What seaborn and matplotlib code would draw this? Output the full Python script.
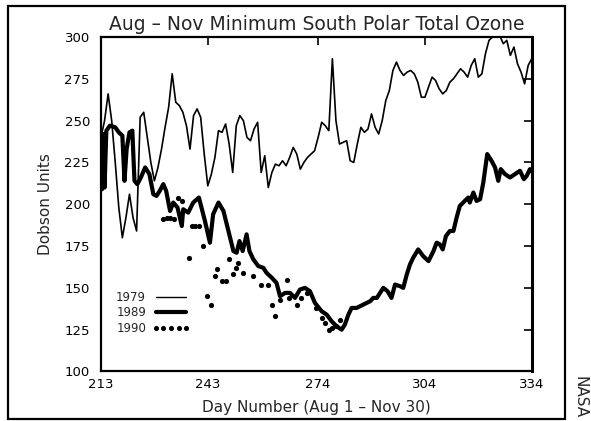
import matplotlib
matplotlib.use("Agg")
import matplotlib.pyplot as plt
import seaborn as sns
import pandas as pd
from matplotlib.lines import Line2D
from matplotlib.patches import Rectangle

# ---------------- data ----------------
days_1979 = list(range(213, 335))
ozone_1979 = [240, 250, 266, 250, 225, 198, 180, 192, 206, 192, 184, 252, 255, 240, 225,
              214, 222, 233, 246, 258, 278, 261, 259, 255, 247, 233, 253, 257, 252, 230,
              211, 218, 228, 244, 243, 248, 236, 219, 247, 253, 250, 240, 238, 245, 249,
              219, 229, 210, 219, 224, 223, 226, 223, 228, 234, 230, 221, 225, 228, 230,
              232, 240, 249, 247, 244, 287, 250, 236, 237, 238, 226, 225, 236, 246, 243,
              245, 254, 246, 242, 250, 262, 268, 280, 285, 280, 277, 279, 280, 278, 273,
              264, 264, 270, 276, 274, 269, 266, 268, 273, 275, 278, 281, 279, 276, 283,
              287, 276, 278, 290, 298, 300, 301, 301, 296, 298, 289, 294, 284, 279, 272,
              283, 287]

days_1989 = [213.0, 213.3, 213.6, 214.0, 214.5, 215.5, 217.0, 218.0, 219.0, 219.6, 220.2,
             221.0, 221.8, 222.4, 223.2, 224.2, 225.4, 226.6, 227.7, 228.6, 229.5, 230.5,
             231.3, 232.4, 233.3, 234.5, 235.7, 236.1, 237.5, 238.9, 240.5, 242.2, 243.6,
             244.5, 246.0, 247.4, 248.8, 250.2, 251.1, 251.9, 252.8, 253.9, 254.7, 255.8,
             257.2, 258.6, 259.5, 261.0, 262.3, 263.3, 264.7, 266.1, 267.5, 268.9, 270.3,
             271.7, 273.1, 275.0, 276.4, 277.8, 279.2, 280.6, 281.5, 282.5, 283.4, 284.8,
             286.7, 288.6, 289.5, 290.5, 292.3, 293.5, 294.6, 295.6, 297.0, 297.9, 298.9,
             299.8, 300.7, 302.1, 303.5, 305.0, 306.4, 307.3, 308.2, 309.0, 309.9, 311.0,
             312.0, 312.9, 313.8, 315.2, 316.2, 316.6, 317.6, 318.5, 319.5, 320.4, 321.5,
             322.7, 323.7, 324.6, 325.3, 326.5, 327.9, 329.3, 330.7, 331.8, 332.6, 333.5,
             334.0]
ozone_1989 = [240, 209, 242, 210, 244, 247, 246, 243, 241, 214, 233,
              243, 244, 214, 212, 216, 222, 218, 206, 205, 208, 212,
              208, 196, 201, 198, 187, 197, 195, 201, 204, 190, 177,
              194, 201, 196, 184, 172, 171, 178, 172, 182, 172, 167,
              163, 162, 159, 156, 153, 145, 147, 147, 144, 149, 150,
              148, 141, 136, 134, 130, 127, 125, 128, 134, 138, 138,
              140, 142, 144, 144, 150, 148, 144, 152, 151, 150, 158,
              164, 168, 173, 169, 166, 172, 177, 176, 173, 181, 184,
              184, 192, 199, 202, 204, 201, 207, 202, 203, 213, 230,
              226, 222, 214, 221, 218, 216, 218, 220, 215, 217, 221,
              220]

days_1990 = [230.5, 231.5, 232.5, 233.5, 234.7, 235.7, 237.8, 238.5, 239.5, 240.5, 241.7,
             242.9, 243.8, 245.0, 245.7, 246.9, 248.0, 248.9, 250.0, 250.9, 251.6, 252.8,
             255.8, 257.9, 260.0, 261.0, 262.0, 263.3, 265.2, 265.8, 268.0, 269.1, 270.8,
             273.5, 275.0, 276.0, 277.0, 277.8, 279.0, 280.1]
ozone_1990 = [191, 192, 192, 191, 204, 202, 168, 187, 187, 187, 175,
              145, 140, 157, 161, 154, 154, 167, 158, 162, 165, 159,
              157, 152, 152, 140, 133, 143, 155, 144, 140, 144, 147,
              138, 132, 129, 125, 126, 127, 131]

x_ticks = [213, 243, 274, 304, 334]
y_ticks = [100, 125, 150, 175, 200, 225, 250, 275, 300]
legend_labels = ["1979", "1989", "1990"]

df79 = pd.DataFrame({"day": days_1979, "ozone": ozone_1979})
df89 = pd.DataFrame({"day": days_1989, "ozone": ozone_1989})
df90 = pd.DataFrame({"day": days_1990, "ozone": ozone_1990})

# ---------------- figure ----------------
sns.set_style("white")
plt.rcParams["font.family"] = ["DejaVu Sans"]

fig = plt.figure(figsize=(5.91, 4.21), dpi=100)
ax = fig.add_axes([0.1709, 0.1176, 0.7288, 0.7945])

sns.lineplot(data=df79, x="day", y="ozone", ax=ax, color="black", lw=1.2,
             estimator=None, sort=False)
sns.lineplot(data=df89, x="day", y="ozone", ax=ax, color="black", lw=3.0,
             estimator=None, sort=False, solid_joinstyle="round", solid_capstyle="round")
sns.scatterplot(data=df90, x="day", y="ozone", ax=ax, color="black", s=14,
                linewidth=0)

ax.set_xlim(213, 334)
ax.set_ylim(100, 300)
ax.set_xticks(x_ticks)
ax.set_yticks(y_ticks)
ax.tick_params(direction="in", length=6, width=1.2, top=True, right=True,
               labelsize=9.5, colors="black")
ax.tick_params(axis="y", pad=8)
ax.tick_params(axis="x", pad=5)
for sp in ax.spines.values():
    sp.set_linewidth(1.6)
    sp.set_color("black")
ax.spines["right"].set_linewidth(2.2)

ax.set_title("Aug \u2013 Nov Minimum South Polar Total Ozone", fontsize=13.5, pad=5)
ax.set_xlabel("Day Number (Aug 1 \u2013 Nov 30)", fontsize=11, labelpad=6)
ax.set_ylabel("Dobson Units", fontsize=11, labelpad=8)

handles = [Line2D([], [], color="black", lw=1.0),
           Line2D([], [], color="black", lw=3.0),
           Line2D([], [], linestyle="", marker="o", ms=3.7, mew=0, color="black")]
ax.legend(handles, legend_labels, loc="lower left", bbox_to_anchor=(0.035, 0.11),
          markerfirst=False, frameon=False, numpoints=5, fontsize=8.5,
          handlelength=3.2, handletextpad=0.5, labelspacing=0.2,
          borderpad=0, borderaxespad=0)

# outer frame and credit
fig.patches.append(Rectangle((8 / 591, 2 / 421), 557 / 591, 413 / 421,
                             transform=fig.transFigure, fill=False,
                             lw=1.6, ec="black"))
fig.text(580 / 591, 1 - 397 / 421, "NASA", rotation=-90, ha="center",
         va="center", fontsize=11)

fig.savefig("out.png", dpi=100)
